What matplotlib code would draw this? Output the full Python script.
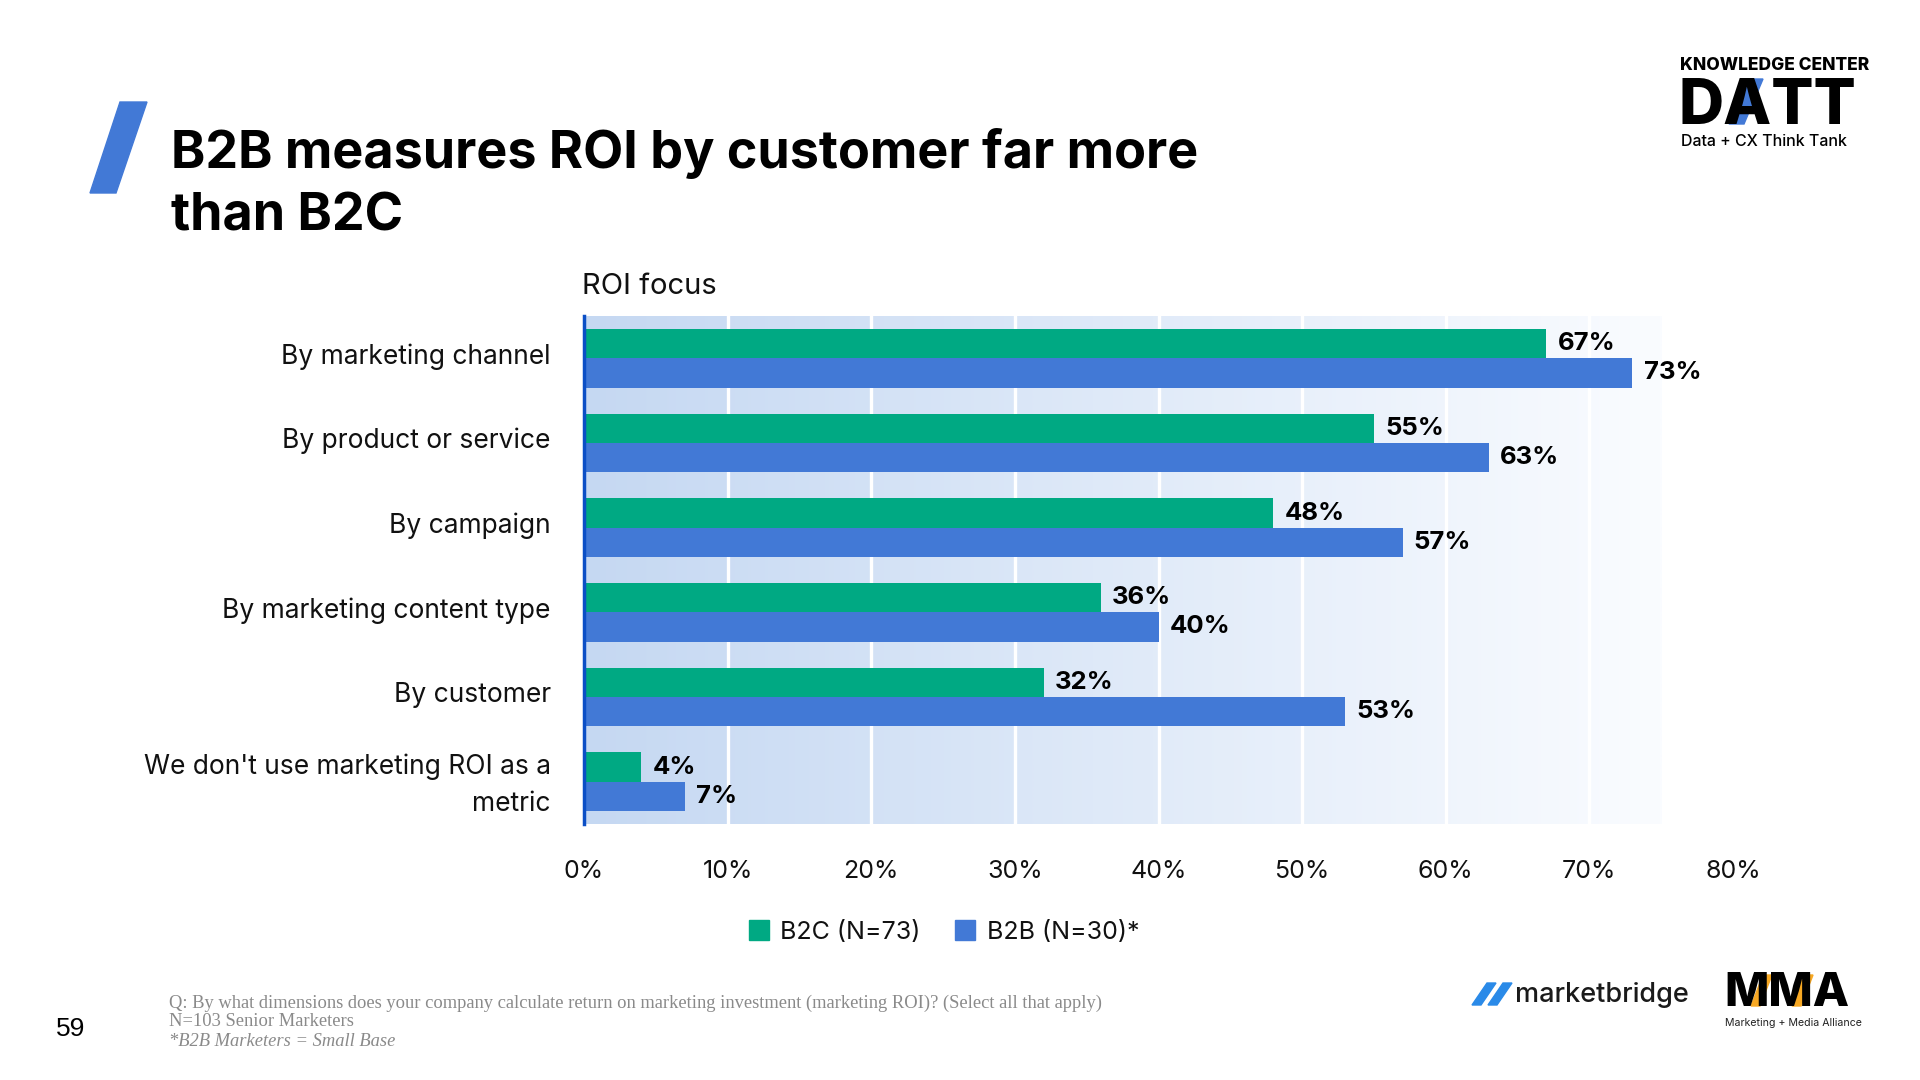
import numpy as np
import matplotlib
matplotlib.use("Agg")
import matplotlib.pyplot as plt
from matplotlib.patches import Polygon, Patch
from matplotlib.transforms import ScaledTranslation

plt.rcParams['font.family'] = ['Inter', 'DejaVu Sans']

# data
categories = ["By marketing channel", "By product or service", "By campaign",
              "By marketing content type", "By customer",
              "We don't use marketing ROI as a\nmetric"]
b2c = [67, 55, 48, 36, 32, 4]
b2b = [73, 63, 57, 40, 53, 7]
series_names = ["B2C (N=73)", "B2B (N=30)*"]
xticks = [0, 10, 20, 30, 40, 50, 60, 70, 80]

GREEN = '#00a983'
BLUE = '#4279d6'
W, H = 1920, 1080


def fx(x):
    return x / W


def fy(y):
    return 1 - y / H


fig = plt.figure(figsize=(19.2, 10.8), dpi=100)
fig.patch.set_facecolor('white')

# plot area
ax = fig.add_axes([fx(584), fy(824), (1733 - 584) / W, (824 - 316) / H])

# background gradient fading to white
grad = np.linspace(0, 1, 256)
c0 = np.array([197, 216, 242]) / 255.0
c1 = np.array([250, 252, 255]) / 255.0
img = c0[None, None, :] * (1 - grad[None, :, None]) + c1[None, None, :] * grad[None, :, None]
ax.imshow(img, extent=[0, 75, 5.5, -0.5], aspect='auto', zorder=0, interpolation='bilinear')
ax.set_xlim(0, 80)
ax.set_ylim(5.5, -0.5)

for v in xticks[1:-1]:
    ax.axvline(v, color='white', lw=2.4, zorder=1)

y = np.arange(len(categories))
h = 0.345
bars1 = ax.barh(y - h / 2, b2c, height=h, color=GREEN, zorder=2, label=series_names[0])
bars2 = ax.barh(y + h / 2, b2b, height=h, color=BLUE, zorder=2, label=series_names[1])

for bars, vals in ((bars1, b2c), (bars2, b2b)):
    for b, v in zip(bars, vals):
        ax.annotate("%d%%" % v, (v, b.get_y() + b.get_height() / 2),
                    xytext=(8, 0), textcoords='offset points', va='center', ha='left',
                    fontsize=18.5, fontweight='bold', color='black', zorder=3)

for s in ['top', 'right', 'bottom']:
    ax.spines[s].set_visible(False)
ax.spines['left'].set_color('#0b4fc6')
ax.spines['left'].set_linewidth(2.5)
ax.spines['left'].set_zorder(4)

ax.set_xticks(xticks)
ax.set_xticklabels(["%d%%" % v for v in xticks], fontsize=18, color='#111111')
ax.set_yticks(y)
ax.set_yticklabels(categories, fontsize=19, color='#111111', linespacing=1.55)
ax.tick_params(axis='x', length=0, pad=26)
ax.tick_params(axis='y', length=0, pad=24)
shift = ScaledTranslation(0, 5 / 100, fig.dpi_scale_trans)
for lab in ax.get_yticklabels():
    lab.set_transform(lab.get_transform() + shift)

fig.text(fx(582), fy(286), "ROI focus", fontsize=21, color='#111111', va='center', ha='left')

# legend
fig.legend(handles=[Patch(color=GREEN), Patch(color=BLUE)], labels=series_names,
           loc='center', bbox_to_anchor=(fx(944), fy(932)), ncol=2, frameon=False,
           fontsize=18, handlelength=0.8, handleheight=0.8, handletextpad=0.45,
           columnspacing=1.4, labelcolor='#111111')

# title with slash
fig.patches.append(Polygon([(fx(90), fy(193)), (fx(116), fy(193)), (fx(147), fy(102)), (fx(120), fy(102))],
                           closed=True, color=BLUE, transform=fig.transFigure))
fig.text(fx(171), fy(168), "B2B measures ROI by customer far more", fontsize=37.5,
         fontweight='bold', color='black', va='baseline', ha='left')
fig.text(fx(171), fy(230), "than B2C", fontsize=37.5,
         fontweight='bold', color='black', va='baseline', ha='left')

# DATT logo
fig.text(fx(1680), fy(65), "KNOWLEDGE CENTER", fontsize=12.5, fontweight='heavy',
         color='black', va='center', ha='left')
fig.text(fx(1678), fy(124), "DATT", fontsize=45, fontweight='heavy',
         color='black', va='baseline', ha='left')
fig.patches.append(Polygon([(fx(1729), fy(124)), (fx(1744), fy(124)), (fx(1763), fy(79)), (fx(1748), fy(79))],
                           closed=True, color=BLUE, transform=fig.transFigure))
fig.text(fx(1681), fy(141), "Data + CX Think Tank", fontsize=11.5, fontweight='medium',
         color='black', va='center', ha='left')

# marketbridge logo
for dx in (0, 16):
    fig.patches.append(Polygon([(fx(1472 + dx), fy(1005)), (fx(1481 + dx), fy(1005)),
                                (fx(1496 + dx), fy(983)), (fx(1487 + dx), fy(983))],
                               closed=True, color='#2a8ae8', transform=fig.transFigure))
fig.text(fx(1515), fy(995), "marketbridge", fontsize=19.5, fontweight='medium',
         color='#1a1a1a', va='center', ha='left')

# MMA logo
fig.text(fx(1724), fy(1006), "MMA", fontsize=34, fontweight='heavy',
         color='black', va='baseline', ha='left')
for x0 in (1751, 1792):
    fig.patches.append(Polygon([(fx(x0), fy(1006)), (fx(x0 + 9), fy(1006)),
                                (fx(x0 + 21), fy(975)), (fx(x0 + 12), fy(975))],
                               closed=True, color='#f7a823', transform=fig.transFigure))
fig.text(fx(1725), fy(1023), "Marketing + Media Alliance", fontsize=7.6,
         color='#222222', va='center', ha='left')

# footnotes
fig.text(fx(71), fy(1029), "59", fontsize=19, color='black', va='center', ha='center',
         family='Liberation Sans')
fig.text(fx(169), fy(1003), "Q: By what dimensions does your company calculate return on marketing "
         "investment (marketing ROI)? (Select all that apply)", fontsize=13.3,
         color='#8a8a8a', va='center', ha='left', family='Liberation Serif')
fig.text(fx(169), fy(1021), "N=103 Senior Marketers", fontsize=13.3,
         color='#8a8a8a', va='center', ha='left', family='Liberation Serif')
fig.text(fx(169), fy(1041), "*B2B Marketers = Small Base", fontsize=13.3, style='italic',
         color='#8a8a8a', va='center', ha='left', family='Liberation Serif')

fig.savefig("out.png", dpi=100, facecolor='white')
